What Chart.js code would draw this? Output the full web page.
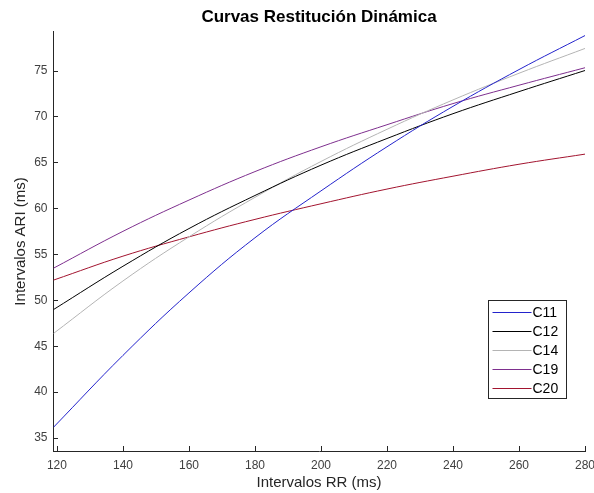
<!DOCTYPE html>
<html>
<head>
<meta charset="utf-8">
<script src="https://cdn.jsdelivr.net/npm/chart.js@4.4.0/dist/chart.umd.min.js"></script>
<style>
html, body { margin: 0; padding: 0; background: #fff; }
</style>
</head>
<body>
<canvas id="chart" width="594" height="493"></canvas>
<script>
// valores (ms)
const rr  = [119, 140, 160, 180, 200, 220, 240, 260, 280];
const c11 = [36.2, 44.0, 50.8, 56.8, 61.9, 66.7, 71.1, 75.1, 78.8];
const c12 = [49.0, 53.7, 57.8, 61.4, 64.7, 67.6, 70.3, 72.7, 75.0];
const c14 = [46.4, 52.1, 56.9, 61.2, 65.1, 68.6, 71.8, 74.7, 77.4];
const c19 = [53.5, 57.5, 60.9, 64.0, 66.7, 69.1, 71.4, 73.4, 75.3];
const c20 = [52.2, 54.8, 56.9, 58.8, 60.5, 62.1, 63.5, 64.8, 65.9];
const names = ['C11', 'C12', 'C14', 'C19', 'C20'];
const xTicks = [120, 140, 160, 180, 200, 220, 240, 260, 280];
const yTicks = [35, 40, 45, 50, 55, 60, 65, 70, 75];

const colores = ['#2323cc', '#000000', '#b4b4b4', '#7e2f8e', '#a2142f'];
const axisColor = '#262626';

Chart.defaults.font.family = '"Liberation Sans", Arial, Helvetica, sans-serif';

function serie(vals) {
    return rr.map((x, i) => ({ x: x, y: vals[i] }));
}

const datasets = [c11, c12, c14, c19, c20].map((vals, i) => ({
    label: names[i],
    data: serie(vals),
    borderColor: colores[i],
    backgroundColor: colores[i],
    borderWidth: 1,
    pointRadius: 0,
    fill: false,
    tension: 0.4
}));

// ticks hacia adentro como en matlab
const inTicks = {
    id: 'inTicks',
    afterDatasetsDraw(chart) {
        const { ctx, chartArea: a, scales } = chart;
        ctx.save();
        ctx.strokeStyle = axisColor;
        ctx.lineWidth = 1;
        ctx.beginPath();
        yTicks.forEach(v => {
            const py = Math.round(scales.y.getPixelForValue(v)) + 0.5;
            ctx.moveTo(a.left, py);
            ctx.lineTo(a.left + 5, py);
        });
        xTicks.forEach(v => {
            const px = Math.round(scales.x.getPixelForValue(v)) + 0.5;
            ctx.moveTo(px, a.bottom);
            ctx.lineTo(px, a.bottom - 5);
        });
        ctx.stroke();
        ctx.restore();
    }
};

// leyenda dentro del area, abajo a la derecha
const boxLegend = {
    id: 'boxLegend',
    afterDraw(chart) {
        const { ctx, chartArea: a } = chart;
        const w = 78, h = 98;
        const left = Math.round(a.right - 97) + 0.5;
        const top = Math.round(a.bottom - 151) + 0.5;
        ctx.save();
        ctx.fillStyle = '#fff';
        ctx.fillRect(left, top, w, h);
        ctx.strokeStyle = axisColor;
        ctx.lineWidth = 1;
        ctx.strokeRect(left, top, w, h);
        ctx.font = '14px "Liberation Sans", Arial, sans-serif';
        ctx.textBaseline = 'middle';
        ctx.textAlign = 'left';
        chart.data.datasets.forEach((ds, i) => {
            const yy = Math.round(top + 11 + i * 19.2) + 0.5;
            ctx.strokeStyle = ds.borderColor;
            ctx.beginPath();
            ctx.moveTo(left + 4, yy);
            ctx.lineTo(left + 43, yy);
            ctx.stroke();
            ctx.fillStyle = '#000';
            ctx.fillText(ds.label, left + 44, yy + 0.5);
        });
        ctx.restore();
    }
};

const chart = new Chart(document.getElementById('chart').getContext('2d'), {
    type: 'line',
    data: { datasets: datasets },
    options: {
        responsive: false,
        animation: false,
        events: [],
        layout: { padding: { top: 0, right: 9, bottom: 0, left: 0 } },
        plugins: {
            legend: { display: false },
            tooltip: { enabled: false },
            title: {
                display: true,
                text: 'Curvas Restitución Dinámica',
                fullSize: false,
                color: '#000',
                font: { size: 17, weight: 'bold' },
                padding: { top: 7.5, bottom: 4 }
            }
        },
        scales: {
            x: {
                type: 'linear',
                min: 118.8,
                max: 280,
                grid: { display: false, drawTicks: false },
                border: { display: true, color: axisColor, width: 1 },
                afterBuildTicks: s => { s.ticks = xTicks.map(v => ({ value: v })); },
                afterFit: s => { s.height = 42; s.paddingLeft = 0; s.paddingRight = 0; },
                ticks: { color: '#404040', font: { size: 12 }, padding: 7, maxRotation: 0 },
                title: {
                    display: true,
                    text: 'Intervalos RR (ms)',
                    color: axisColor,
                    font: { size: 15 },
                    padding: { top: 0, bottom: 1.5 }
                }
            },
            y: {
                min: 33.6,
                max: 79.2,
                grid: { display: false, drawTicks: false },
                border: { display: true, color: axisColor, width: 1 },
                afterBuildTicks: s => { s.ticks = yTicks.map(v => ({ value: v })); },
                afterFit: s => { s.width = 53; s.paddingTop = 0; s.paddingBottom = 0; },
                ticks: { color: '#404040', font: { size: 12 }, padding: 5.5 },
                title: {
                    display: true,
                    text: 'Intervalos ARI (ms)',
                    color: axisColor,
                    font: { size: 15 },
                    padding: { top: 12, bottom: 0 }
                }
            }
        }
    },
    plugins: [inTicks, boxLegend]
});
</script>
</body>
</html>
